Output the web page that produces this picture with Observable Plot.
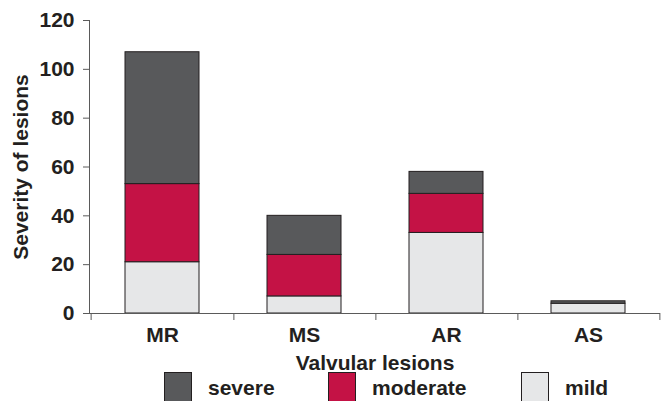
<!DOCTYPE html>
<html><head><meta charset="utf-8">
<script src="https://cdn.jsdelivr.net/npm/d3@7"></script>
<script src="https://cdn.jsdelivr.net/npm/@observablehq/plot@0.6"></script>
<style>
body{margin:0;background:#fff;font-family:"Liberation Sans",Arial,sans-serif;color:#231f20;}
#legend{position:relative;height:29px;width:662px;overflow:hidden;}
.sw{position:absolute;top:0;width:28px;height:30px;border:1px solid #231f20;box-sizing:border-box;}
.lb{position:absolute;top:4px;font-size:21px;font-weight:bold;line-height:24px;white-space:nowrap;}
</style>
</head><body><div id="chart"></div><div id="legend"></div>
<script>
const categories = ["MR", "MS", "AR", "AS"];
const severe = [54, 16, 9, 1];
const moderate = [32, 17, 16, 0];
const mild = [21, 7, 33, 4];
const series = ["severe", "moderate", "mild"];
const colors = ["#58595b", "#c41245", "#e6e7e8"];
const yTicks = [0, 20, 40, 60, 80, 100, 120];

const data = [];
categories.forEach((c, i) => {
  data.push({cat: c, sev: "mild", v: mild[i]});
  data.push({cat: c, sev: "moderate", v: moderate[i]});
  data.push({cat: c, sev: "severe", v: severe[i]});
});

const W = 662, ML = 89, MRt = 2;
const half = (W - ML - MRt) / categories.length / 2;
const axisColor = "#5a5a5a";

const plot = Plot.plot({
  width: W, height: 372,
  marginLeft: ML, marginRight: MRt, marginTop: 20, marginBottom: 59,
  style: {fontFamily: "'Liberation Sans', Arial, sans-serif", fontWeight: "bold", color: "#231f20", background: "#fff"},
  x: {domain: categories, paddingInner: 0.48, paddingOuter: 0.24},
  y: {domain: [0, 120]},
  color: {domain: series, range: colors},
  marks: [
    Plot.barY(data, {x: "cat", y: "v", fill: "sev", order: ["mild", "moderate", "severe"], stroke: "#231f20", strokeWidth: 1}),
    Plot.frame({anchor: "left", stroke: axisColor}),
    Plot.ruleY([0], {stroke: axisColor}),
    Plot.axisY({ticks: yTicks, tickSize: 6, tickPadding: 9, fontSize: 21, stroke: axisColor,
      label: "Severity of lesions", labelArrow: false, labelAnchor: "center", labelOffset: 76}),
    Plot.axisX({tickSize: 0, tickPadding: 14, fontSize: 21,
      label: "Valvular lesions", labelArrow: false, labelAnchor: "center", labelOffset: 56}),
    Plot.axisX({tickSize: 7, tickFormat: () => "", dx: half, stroke: axisColor, label: null}),
    Plot.axisX({ticks: [categories[0]], tickSize: 7, tickFormat: () => "", dx: -half, stroke: axisColor, label: null})
  ]
});
document.getElementById("chart").appendChild(plot);

const legend = document.getElementById("legend");
const swLeft = [164, 328, 521];
series.forEach((s, i) => {
  const sw = document.createElement("div");
  sw.className = "sw";
  sw.style.left = swLeft[i] + "px";
  sw.style.background = colors[i];
  legend.appendChild(sw);
  const lb = document.createElement("div");
  lb.className = "lb";
  lb.style.left = (swLeft[i] + 44) + "px";
  lb.textContent = s;
  legend.appendChild(lb);
});
</script>
</body></html>
